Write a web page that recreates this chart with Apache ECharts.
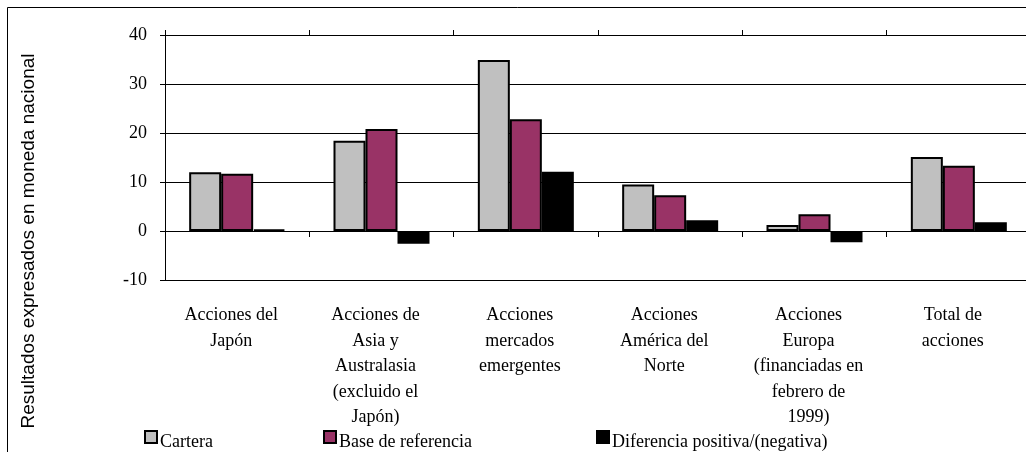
<!DOCTYPE html>
<html>
<head>
<meta charset="utf-8">
<script src="https://cdn.jsdelivr.net/npm/echarts@6/dist/echarts.min.js"></script>
<style>
  html, body { margin: 0; padding: 0; background: #fff; }
  #chart { width: 1026px; height: 452px; }
</style>
</head>
<body>
<div id="chart"></div>
<script>
// Rendimiento por clase de activo, en moneda nacional
const categories = [
  'Acciones del\nJapón',
  'Acciones de\nAsia y\nAustralasia\n(excluido el\nJapón)',
  'Acciones\nmercados\nemergentes',
  'Acciones\nAmérica del\nNorte',
  'Acciones\nEuropa\n(financiadas en\nfebrero de\n1999)',
  'Total de\nacciones'
];
const cartera = [12.0, 18.4, 34.9, 9.5, 1.2, 15.1];
const baseReferencia = [11.7, 20.8, 22.8, 7.3, 3.4, 13.3];
const diferencia = [0.3, -2.6, 12.1, 2.2, -2.3, 1.8];
const seriesNames = ['Cartera', 'Base de referencia', 'Diferencia positiva/(negativa)'];
const yTitle = 'Resultados expresados en moneda nacional';

const serif = '"Liberation Serif", "Times New Roman", serif';
const sans = '"Liberation Sans", Arial, sans-serif';

const chart = echarts.init(document.getElementById('chart'));

function barSeries(name, data, color) {
  return {
    name: name,
    type: 'bar',
    data: data,
    barWidth: 32,
    barGap: '0%',
    itemStyle: { color: color, borderColor: '#000', borderWidth: 2 },
    emphasis: { disabled: true }
  };
}

function legendFor(name, left) {
  return {
    data: [name],
    left: left,
    top: 425,
    itemWidth: 12,
    itemHeight: 12,
    itemGap: 0,
    selectedMode: false,
    icon: 'rect',
    formatter: '{t|{name}}',
    textStyle: {
      fontFamily: serif, fontSize: 18, color: '#000',
      rich: {
        t: { fontFamily: serif, fontSize: 18, color: '#000', padding: [10, 0, 0, -2] }
      }
    }
  };
}

chart.setOption({
  animation: false,
  backgroundColor: '#fff',
  grid: { left: 165, top: 35, height: 245, right: -5, outerBoundsMode: 'none', containLabel: false },
  legend: [
    legendFor(seriesNames[0], 139),
    legendFor(seriesNames[1], 318),
    legendFor(seriesNames[2], 591)
  ],
  xAxis: [
    {
      type: 'category',
      data: categories,
      position: 'bottom',
      axisLine: { onZero: true, lineStyle: { color: '#000', width: 1 } },
      axisTick: { show: true, length: 6, lineStyle: { color: '#000' } },
      axisLabel: {
        margin: 23,
        fontFamily: serif, fontSize: 18, color: '#000',
        lineHeight: 25.5,
        padding: [0, 12, 0, 0]
      },
      splitLine: { show: false }
    },
    {
      type: 'category',
      data: categories,
      position: 'top',
      axisLine: { onZero: true, show: false },
      axisTick: { show: true, length: 5, lineStyle: { color: '#000' } },
      axisLabel: { show: false },
      splitLine: { show: false }
    }
  ],
  yAxis: {
    type: 'value',
    min: -10,
    max: 40,
    interval: 10,
    axisLine: { show: true, lineStyle: { color: '#000', width: 1 } },
    axisTick: { show: true, length: 5, lineStyle: { color: '#000' } },
    axisLabel: { margin: 18, fontFamily: serif, fontSize: 18, color: '#000' },
    splitLine: { show: true, lineStyle: { color: '#000', width: 1 } }
  },
  graphic: [
    {
      type: 'rect',
      silent: true,
      shape: { x: 7.5, y: 7.5, width: 1200, height: 1000 },
      style: { fill: 'none', stroke: '#000', lineWidth: 1 }
    },
    {
      type: 'text',
      silent: true,
      x: 29,
      y: 241,
      rotation: Math.PI / 2,
      style: {
        text: yTitle,
        fontFamily: sans,
        fontSize: 19,
        fill: '#000',
        align: 'center',
        verticalAlign: 'middle'
      }
    }
  ],
  series: [
    barSeries(seriesNames[0], cartera, '#C0C0C0'),
    barSeries(seriesNames[1], baseReferencia, '#993366'),
    barSeries(seriesNames[2], diferencia, '#000000')
  ]
});
</script>
</body>
</html>
